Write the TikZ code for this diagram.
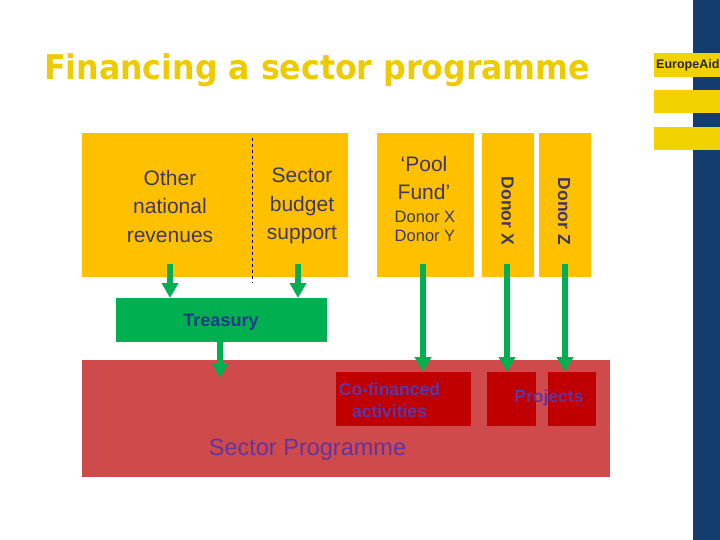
\documentclass[tikz,border=0pt]{standalone}
\usepackage{fontspec}
\setmainfont{Liberation Sans}
\newfontfamily\titlefont{DejaVu Sans}
\usetikzlibrary{arrows.meta}
\definecolor{bandblue}{HTML}{133C6F}
\definecolor{baryellow}{HTML}{F2D200}
\definecolor{titleyellow}{HTML}{EECA00}
\definecolor{boxorange}{HTML}{FFC000}
\definecolor{arrgreen}{HTML}{00B050}
\definecolor{bigred}{HTML}{CF4B4B}
\definecolor{darkred}{HTML}{C00000}
\definecolor{txtgray}{HTML}{40375A}
\definecolor{txtblue}{HTML}{1F3C88}
\definecolor{txtpurple}{HTML}{6234A0}
\begin{document}
\begin{tikzpicture}[x=1pt,y=-1pt,
  fbox/.style={inner sep=0pt, outer sep=0pt, draw=none},
  txt/.style={inner sep=0pt, align=center, text=txtgray},
  arr/.style={draw=arrgreen, line width=6pt, -{Triangle[width=16pt,length=15pt]}}]
\useasboundingbox (0,0) rectangle (720,540);
\clip (0,0) rectangle (720,540);
% side band
\fill[bandblue] (693,0) rectangle (720,540);
\node[fbox, fill=baryellow, anchor=north west, minimum width=66pt, minimum height=24pt] (bar1) at (654,53) {};
\node[fbox, fill=baryellow, anchor=north west, minimum width=66pt, minimum height=23pt] (bar2) at (654,90) {};
\node[fbox, fill=baryellow, anchor=north west, minimum width=66pt, minimum height=23pt] (bar3) at (654,127) {};
\node[inner sep=0pt, anchor=west, text=black!85, font=\fontsize{12.5}{14}\selectfont\bfseries] (ea) at (656,65.5) {EuropeAid};
% title
\node[inner sep=0pt, anchor=base west, text=titleyellow] (title) at (44,80)
  {\resizebox{546pt}{\height}{\titlefont\bfseries\fontsize{34}{40}\selectfont Financing a sector programme}};
% top boxes
\node[fbox, fill=boxorange, minimum width=266pt, minimum height=144pt] (nat) at (215,205) {};
\draw[dashed, line width=0.8pt, black] (252.5,138) -- (252.5,283);
\node[txt, font=\fontsize{21}{28.5}\selectfont] (oth) at (170,206) {Other\\national\\revenues};
\node[txt, font=\fontsize{21}{28.5}\selectfont] (sbs) at (302,206) {Sector\\budget\\support};
\node[fbox, fill=boxorange, minimum width=97pt, minimum height=144pt] (pool) at (425.5,205) {};
\node[txt, font=\fontsize{21}{28}\selectfont] (pf1) at (424,178) {‘Pool\\Fund’};
\node[txt, font=\fontsize{16.5}{19}\selectfont] (pf2) at (425,226) {Donor X\\Donor Y};
\node[fbox, fill=boxorange, minimum width=52pt, minimum height=144pt] (dx) at (508,205) {};
\node[fbox, fill=boxorange, minimum width=52pt, minimum height=144pt] (dz) at (565,205) {};
\node[txt, rotate=-90, font=\fontsize{17.5}{20}\selectfont\bfseries] (dxt) at (507.5,211) {Donor X};
\node[txt, rotate=-90, font=\fontsize{17.5}{20}\selectfont\bfseries] (dzt) at (564,211.5) {Donor Z};
% treasury
\node[fbox, fill=arrgreen, minimum width=211pt, minimum height=44pt] (tre) at (221.5,320) {};
\node[inner sep=0pt, text=txtblue, font=\fontsize{18}{20}\selectfont\bfseries] (tret) at (221,322) {Treasury};
% sector programme
\node[fbox, fill=bigred, minimum width=528pt, minimum height=117pt] (sp) at (346,418.5) {};
\node[fbox, fill=darkred, minimum width=135pt, minimum height=54pt] (cof) at (403.5,399) {};
\node[fbox, fill=darkred, minimum width=49pt, minimum height=54pt] (p1) at (511.5,399) {};
\node[fbox, fill=darkred, minimum width=48pt, minimum height=54pt] (p2) at (572,399) {};
\node[inner sep=0pt, align=center, text=txtpurple, font=\fontsize{17.5}{22}\selectfont\bfseries] (coft) at (389.5,400) {Co-financed\\activities};
\node[inner sep=0pt, text=txtpurple, font=\fontsize{17.5}{20}\selectfont\bfseries] (projt) at (549,398) {Projects};
\node[inner sep=0pt, text=txtpurple, font=\fontsize{23.5}{26}\selectfont] (spt) at (307.5,450) {Sector Programme};
% arrows
\coordinate (s1) at (170,264);
\coordinate (s2) at (298,264);
\coordinate (s3) at (423,264);
\coordinate (s4) at (507,264);
\coordinate (s5) at (565,264);
\coordinate (s6) at (220,342);
\coordinate (e6) at (220,378);
\draw[arr] (s1) -- (s1 |- tre.north);
\draw[arr] (s2) -- (s2 |- tre.north);
\draw[arr] (s6) -- (e6);
\draw[arr] (s3) -- (s3 |- cof.north);
\draw[arr] (s4) -- (s4 |- p1.north);
\draw[arr] (s5) -- (s5 |- p2.north);
\end{tikzpicture}
\end{document}
